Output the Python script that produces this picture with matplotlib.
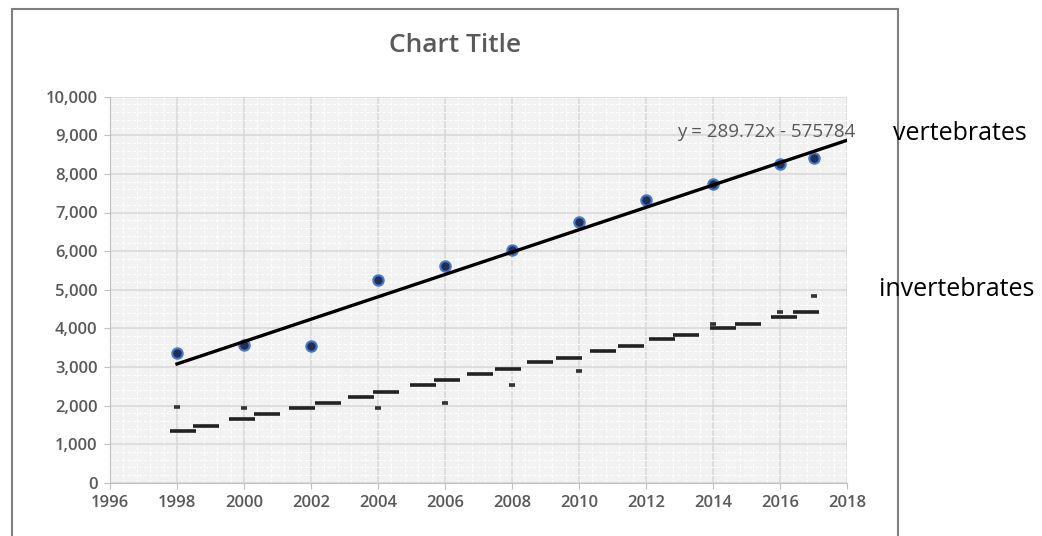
import numpy as np
import matplotlib.pyplot as plt
from matplotlib.ticker import MultipleLocator, FuncFormatter
from matplotlib.patches import Rectangle

# Dados
vert_years = [1998, 2000, 2002, 2004, 2006, 2008, 2010, 2012, 2014, 2016, 2017]
vert_values = [3350, 3560, 3540, 5250, 5610, 6020, 6750, 7330, 7730, 8250, 8400]

# Linha de tendência (equação mostrada no gráfico)
trend_slope = 289.72
trend_intercept = -575784
trend_years = [1998, 2018]

# Invertebrados: traços principais
inv_years = [1998.18, 1998.87, 1999.94, 2000.69, 2001.73, 2002.51, 2003.49, 2004.24,
             2005.34, 2006.06, 2007.04, 2007.88, 2008.84, 2009.70, 2010.72, 2011.55,
             2012.48, 2013.19, 2014.30, 2015.04, 2016.12, 2016.78]
inv_values = [1340, 1470, 1640, 1770, 1940, 2055, 2225, 2347,
              2520, 2650, 2820, 2950, 3124, 3235, 3410, 3530,
              3712, 3830, 4005, 4116, 4298, 4420]

# Invertebrados: pontos isolados
inv_pt_years = [1998, 2000, 2004, 2006, 2008, 2010, 2014, 2016, 2017]
inv_pt_values = [1955, 1940, 1940, 2060, 2528, 2900, 4116, 4420, 4834]

FONT = ['Open Sans', 'DejaVu Sans']
GRAY = '#595959'

fig = plt.figure(figsize=(10.42, 5.36), dpi=100)
W, H = 1042, 536

# Borda da área do gráfico (a parte de baixo fica fora da imagem)
top = 1 - 9 / H
fig.patches.append(Rectangle((12 / W, -0.05), (898 - 12) / W, top + 0.05,
                             transform=fig.transFigure, fill=False,
                             edgecolor='#7f7f7f', linewidth=1.5))

ax = fig.add_axes([110 / W, 1 - 482.7 / H, (847 - 110) / W, (482.7 - 96.7) / H])
ax.set_facecolor('#f2f2f2')
ax.set_xlim(1996, 2018)
ax.set_ylim(0, 10000)

ax.xaxis.set_major_locator(MultipleLocator(2))
ax.yaxis.set_major_locator(MultipleLocator(1000))
ax.yaxis.set_minor_locator(MultipleLocator(200))
ax.xaxis.set_minor_locator(MultipleLocator(0.4))
ax.yaxis.set_major_formatter(FuncFormatter(lambda v, p: f"{int(v):,}"))

ax.grid(which='major', color='#d9d9d9', linewidth=1.2)
ax.grid(which='minor', color='white', linewidth=0.8, linestyle=(0, (3, 2)))
ax.set_axisbelow(True)

for s in ['top', 'right']:
    ax.spines[s].set_visible(False)
for s in ['left', 'bottom']:
    ax.spines[s].set_color('#bfbfbf')
ax.tick_params(which='major', length=4, color='#bfbfbf', labelcolor=GRAY, labelsize=12, pad=5)
ax.tick_params(which='minor', length=0)
for lab in ax.get_xticklabels() + ax.get_yticklabels():
    lab.set_family(FONT)
    lab.set_fontweight('semibold')

# Invertebrados
ax.plot(inv_years, inv_values, linestyle='none', marker='_', markersize=19,
        markeredgewidth=2.6, color='#222222', zorder=3)
ax.plot(inv_pt_years, inv_pt_values, linestyle='none', marker='_', markersize=5,
        markeredgewidth=2.6, color='#333333', zorder=3)

# Vertebrados
ax.plot(vert_years, vert_values, linestyle='none', marker='o', markersize=7.5,
        markerfacecolor='#1f2f5a', markeredgecolor='#4a78c8', markeredgewidth=1.5, zorder=4)

# Tendência
ty = np.array(trend_years)
ax.plot(ty, trend_slope * ty + trend_intercept, color='black', linewidth=2.4, zorder=5)

fig.text(455 / W, 1 - 45 / H, 'Chart Title', ha='center', va='center',
         color=GRAY, fontsize=19, family=FONT, fontweight='semibold')
fig.text(766 / W, 1 - 132 / H, 'y = 289.72x - 575784', ha='center', va='center',
         color=GRAY, fontsize=13.5, family=FONT)
fig.text(893 / W, 1 - 134 / H, 'vertebrates', ha='left', va='center',
         color='black', fontsize=18, family=FONT)
fig.text(879 / W, 1 - 290 / H, 'invertebrates', ha='left', va='center',
         color='black', fontsize=18, family=FONT)

fig.savefig('out.png', dpi=100)
